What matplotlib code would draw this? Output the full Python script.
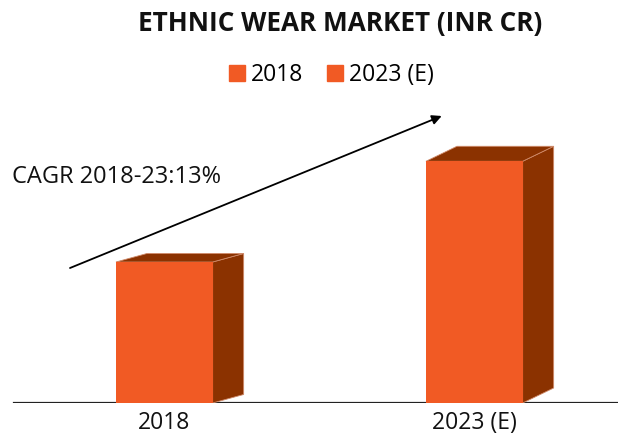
import numpy as np
import matplotlib
matplotlib.use("Agg")
import matplotlib.pyplot as plt
from matplotlib.patches import Polygon
from matplotlib.lines import Line2D

plt.rcParams['font.family'] = ['Open Sans', 'DejaVu Sans']

years = ['2018', '2023 (E)']
market = [105000, 180000]  # INR Cr
cagr_label = 'CAGR 2018-23:13%'
title = 'ETHNIC WEAR MARKET (INR CR)'

front = '#f15a24'
side = '#8b3200'
edge = '#d08a6a'

W, H = 618, 434
fig = plt.figure(figsize=(W / 100, H / 100), dpi=100)
base_px = 403
ax = fig.add_axes([0, (H - base_px) / H, 1, base_px / H])

x = np.arange(len(years))
px_per_x = 310.0
ax.set_xlim(-164.3 / px_per_x, (W - 164.3) / px_per_x)
ymax = market[0] * base_px / 141.0
ax.set_ylim(0, ymax)
px_per_y = base_px / ymax

bw = 96.7 / px_per_x
depth = [(31, 8.5), (31, 15)]  # pixel offset of the back face

ax.axhline(0, xmin=14 / W, xmax=1, color='#222222', lw=1.6, zorder=1)

bars = ax.bar(x, market, width=bw, color=front, zorder=3)
for b, (dxp, dyp) in zip(bars, depth):
    dx = dxp / px_per_x
    dy = dyp / px_per_y
    x0, x1 = b.get_x(), b.get_x() + b.get_width()
    h = b.get_height()
    side_face = Polygon([(x1, 0), (x1, h), (x1 + dx, h + dy), (x1 + dx, dy)],
                        closed=True, facecolor=side, edgecolor=edge, lw=0.6, zorder=2)
    top_face = Polygon([(x0, h), (x1, h), (x1 + dx, h + dy), (x0 + dx, h + dy)],
                       closed=True, facecolor=side, edgecolor=edge, lw=0.6, zorder=2)
    ax.add_patch(side_face)
    ax.add_patch(top_face)

ax.set_xticks(x)
ax.set_xticklabels(years, fontsize=16.5, color='#111111')
ax.tick_params(axis='x', length=0, pad=6)
ax.set_yticks([])
for s in ax.spines.values():
    s.set_visible(False)
ax.patch.set_alpha(0)

fig.text(340 / W, 1 - 24 / H, title, ha='center', va='center',
         fontsize=18.8, fontweight='bold', color='#111111')

handles = [Line2D([], [], marker='s', ls='', color=front, markersize=12) for _ in years]
fig.legend(handles, years, loc='center', bbox_to_anchor=(331 / W, 1 - 75 / H),
           ncol=2, frameon=False, fontsize=16.5, handletextpad=0.2,
           columnspacing=1.0, handlelength=0.8)

fig.text(12 / W, 1 - 177 / H, cagr_label, ha='left', va='center',
         fontsize=17, color='#111111')

ax.annotate('', xy=(441.7 / W, 1 - 116 / H), xytext=(70 / W, 1 - 268 / H),
            xycoords='figure fraction', textcoords='figure fraction',
            arrowprops=dict(arrowstyle='-|>', color='black', lw=1.3,
                            mutation_scale=14, shrinkA=0, shrinkB=0))

fig.savefig('out.png', dpi=100)
